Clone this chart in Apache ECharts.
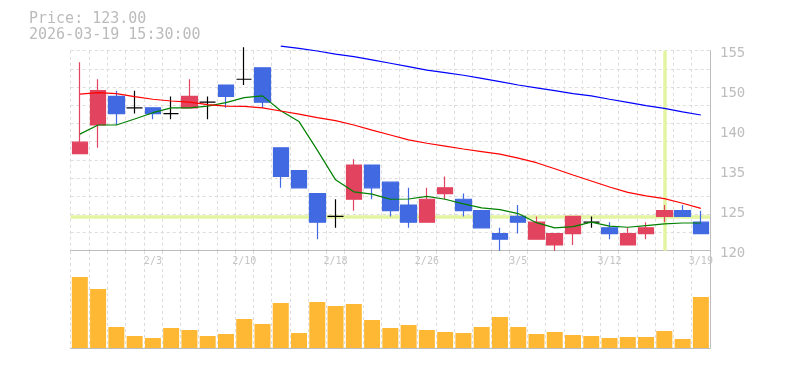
<!DOCTYPE html>
<html>
<head>
<meta charset="utf-8">
<script src="https://cdn.jsdelivr.net/npm/echarts@6/dist/echarts.min.js"></script>
<style>html,body{margin:0;padding:0;background:#fff;}#c{width:785px;height:370px;}</style>
</head>
<body>
<div id="c"></div>
<script>
const dates = ['1/28','1/29','1/30','2/2','2/3','2/4','2/5','2/6','2/9','2/10','2/12','2/13','2/16','2/17','2/18','2/19','2/20','2/24','2/25','2/26','2/27','3/2','3/3','3/4','3/5','3/6','3/9','3/10','3/11','3/12','3/13','3/16','3/17','3/18','3/19'];
const openP  = [137,142,147,145,145,144,145,146,149,150,152,138,134,130,126,129,135,132,128,125,130,129,127,123,126,122,121,123,125,124,121,123,126,127,125];
const closeP = [139,148,144,145,144,144,147,146,147,150,146,133,131,125,126,135,131,127,125,129,131,127,124,122,125,125,123,126,125,123,123,124,127,126,123];
const lowP   = [137,138,142,144,143,143,145,143,145,149,145,131,131,122,124,127,129,126,124,125,129,126,124,120,123,122,120,121,124,122,121,122,125,126,123];
const highP  = [153,150,148,148,145,147,150,147,149,155.6,152,138,134,130,129,136,135,132,131,131,133,130,127,124,128,126,123,126,126,125,124,125,128,128,127];
const volumes = [71,59,21,12,10,20,18,12,14,29,24,45,15,46,42,44,28,20,23,18,16,15,21,31,21,14,16,13,12,10,11,11,17,9,51];
const maShort = [140.4,142.0,142.0,143.05,144.15,145.0,145.0,145.3,145.9,146.8,147.1,144.5,142.6,137.6,132.4,130.3,129.9,129.0,129.05,129.5,129.0,128.2,127.5,127.2,126.5,124.9,124.0,124.2,125.0,124.3,124.1,124.4,124.7,124.85,124.85];
const maMid = [147.4,147.65,147.5,146.95,146.5,146.2,146.0,145.55,145.3,145.27,145.0,144.45,143.9,143.3,142.75,142.0,141.1,140.25,139.4,138.8,138.3,137.8,137.35,136.9,136.2,135.4,134.35,133.25,132.2,131.15,130.2,129.6,129.1,128.3,127.4];
const maLong = [null,null,null,null,null,null,null,null,null,null,null,155.8,155.4,154.95,154.4,153.95,153.4,152.8,152.2,151.6,151.15,150.7,150.15,149.6,149.0,148.5,148.0,147.5,147.1,146.5,145.95,145.4,144.9,144.3,143.75];
const yTickLabels = ['120','125','135','140','150','155'];
const priceMin = 120, priceMax = 155, priceStep = 7;
const crossDate = '3/17', crossPrice = 126;
const titleLines = ['Price: 123.00', '2026-03-19 15:30:00'];

const candleData = dates.map((d, i) => [openP[i], closeP[i], lowP[i], highP[i]]);
const volData = volumes.map(v => v * 1000);

const mono = 'DejaVu Sans Mono';
const gridColor = '#dcdcdc';
const axisColor = '#bdbdbd';

const chart = echarts.init(document.getElementById('c'), null, {renderer: 'canvas'});
chart.setOption({
  animation: false,
  backgroundColor: '#fff',
  title: {
    text: titleLines.join('\n'), left: 29, top: 11, padding: 0,
    textStyle: {fontFamily: mono, fontSize: 15, fontWeight: 'normal', color: '#bbbbbb', lineHeight: 16}
  },
  grid: [
    {left: 70.7, right: 75, top: 50.7, height: 200},
    {left: 70.7, right: 75, top: 251, bottom: 22}
  ],
  xAxis: [
    {
      type: 'category', gridIndex: 0, data: dates, boundaryGap: true,
      axisLine: {show: true, lineStyle: {color: axisColor, width: 1}},
      axisTick: {show: false},
      axisLabel: {interval: (idx) => idx % 5 === 4, color: '#c4c4c4', fontFamily: mono, fontSize: 10, margin: 6},
      splitLine: {show: true, interval: 0, lineStyle: {color: gridColor, type: [3, 3], width: 1}}
    },
    {
      type: 'category', gridIndex: 1, data: dates, boundaryGap: true, offset: 2,
      axisLine: {show: true, lineStyle: {color: axisColor, width: 1}},
      axisTick: {show: false}, axisLabel: {show: false},
      splitLine: {show: true, interval: 0, lineStyle: {color: gridColor, type: [3, 3], width: 1}}
    }
  ],
  yAxis: [
    {
      type: 'value', gridIndex: 0, position: 'right', min: priceMin, max: priceMax, interval: priceStep,
      axisLine: {show: true, lineStyle: {color: axisColor, width: 1}},
      axisTick: {show: false},
      axisLabel: {
        color: '#bdbdbd', fontFamily: mono, fontSize: 14, margin: 10,
        verticalAlign: 'top', lineHeight: 6,
        formatter: (v) => yTickLabels[Math.round((v - priceMin) / priceStep)] || ''
      },
      splitLine: {show: false}
    },
    {
      type: 'value', gridIndex: 0, position: 'left', min: 0, max: 11, interval: 1,
      axisLine: {show: false}, axisTick: {show: false}, axisLabel: {show: false},
      splitLine: {show: true, lineStyle: {color: gridColor, type: [3, 3], width: 1}}
    },
    {
      type: 'value', gridIndex: 1, position: 'right', min: 0, max: 97000,
      axisLine: {show: true, lineStyle: {color: axisColor, width: 1}},
      axisTick: {show: false}, axisLabel: {show: false}, splitLine: {show: false}
    }
  ],
  series: [
    {
      type: 'candlestick', xAxisIndex: 0, yAxisIndex: 0, data: candleData, barWidth: 16, clip: false,
      itemStyle: {
        color: '#e2435f', color0: '#4169e1', borderColor: '#e2435f', borderColor0: '#4169e1',
        borderColorDoji: '#000000', borderWidth: 1.2
      },
      markLine: {
        silent: true, symbol: 'none', z: 1, animation: false,
        label: {show: false},
        lineStyle: {color: '#e4f5a2', width: 3.5, type: 'solid'},
        emphasis: {disabled: true},
        data: [{xAxis: crossDate}, {yAxis: crossPrice}]
      }
    },
    {
      type: 'line', xAxisIndex: 0, yAxisIndex: 0, data: maShort, showSymbol: false, clip: false,
      lineStyle: {color: '#008000', width: 1.2}, z: 3
    },
    {
      type: 'line', xAxisIndex: 0, yAxisIndex: 0, data: maMid, showSymbol: false, clip: false,
      lineStyle: {color: '#ff0000', width: 1.2}, z: 3
    },
    {
      type: 'line', xAxisIndex: 0, yAxisIndex: 0, data: maLong, showSymbol: false, clip: false,
      connectNulls: false, lineStyle: {color: '#0000ff', width: 1.2}, z: 3
    },
    {
      type: 'bar', xAxisIndex: 1, yAxisIndex: 2, data: volData, barWidth: 16,
      itemStyle: {color: '#ffb834'}
    }
  ]
});
</script>
</body>
</html>
